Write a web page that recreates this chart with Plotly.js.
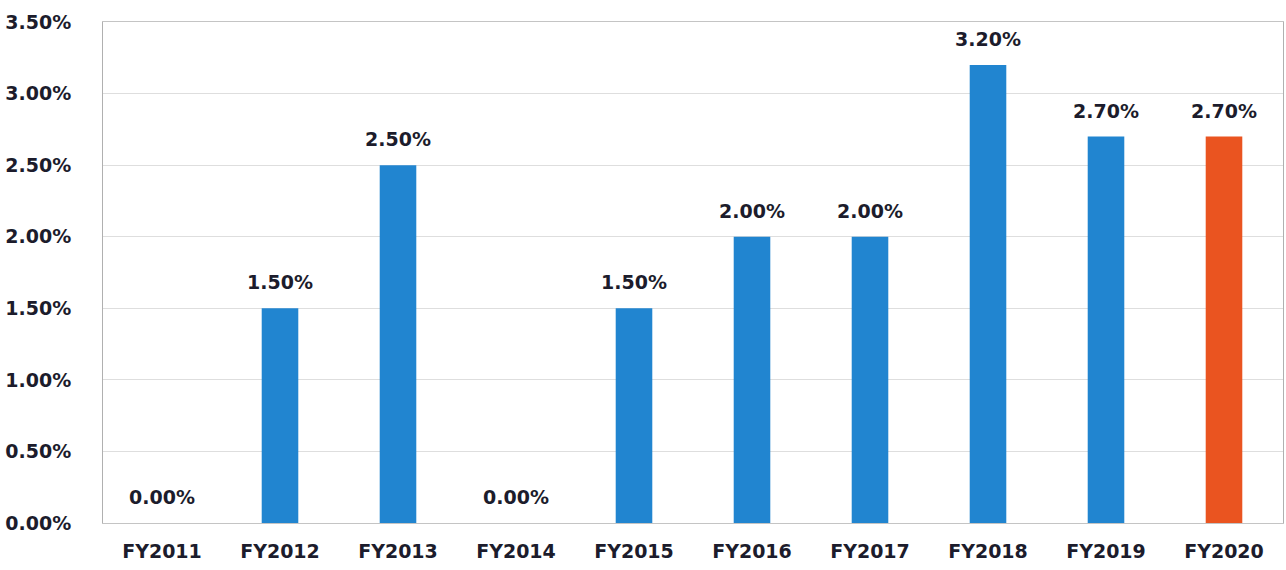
<!DOCTYPE html>
<html>
<head>
<meta charset="utf-8">
<script src="https://cdn.plot.ly/plotly-3.0.1.min.js"></script>
<style>
  html, body { margin: 0; padding: 0; background: #ffffff; }
  #chart { width: 1286px; height: 570px; }
</style>
</head>
<body>
<div id="chart"></div>
<script>
const categories = ['FY2011','FY2012','FY2013','FY2014','FY2015','FY2016','FY2017','FY2018','FY2019','FY2020'];
const values = [0.0, 1.5, 2.5, 0.0, 1.5, 2.0, 2.0, 3.2, 2.7, 2.7];
const labels = ['0.00%','1.50%','2.50%','0.00%','1.50%','2.00%','2.00%','3.20%','2.70%','2.70%'];
const barColors = ['#2185d0','#2185d0','#2185d0','#2185d0','#2185d0','#2185d0','#2185d0','#2185d0','#2185d0','#ea5420'];
const tickVals = [0, 0.5, 1.0, 1.5, 2.0, 2.5, 3.0, 3.5];
const tickText = ['0.00%','0.50%','1.00%','1.50%','2.00%','2.50%','3.00%','3.50%'];

const fontFam = 'DejaVu Sans, Verdana, sans-serif';
const textColor = '#1c1c2c';

const trace = {
  type: 'bar',
  x: categories,
  y: values,
  marker: { color: barColors, line: { width: 0 } },
  hoverinfo: 'skip'
};

const annotations = categories.map((c, i) => ({
  x: c, y: values[i], xref: 'x', yref: 'y',
  text: '<b>' + labels[i] + '</b>',
  showarrow: false, yanchor: 'middle', yshift: 26,
  font: { family: fontFam, size: 19, color: textColor }
}));

const layout = {
  width: 1286, height: 570,
  margin: { l: 103, r: 3, t: 22, b: 47, pad: 0 },
  paper_bgcolor: '#ffffff',
  plot_bgcolor: '#ffffff',
  showlegend: false,
  bargap: 0.69,
  xaxis: {
    type: 'category',
    showgrid: false,
    showline: true, mirror: true, linecolor: '#c4c4c4', linewidth: 1,
    ticks: '',
    ticklabelstandoff: 11,
    tickfont: { family: fontFam, size: 19, color: textColor, weight: 'bold' }
  },
  yaxis: {
    range: [0, 3.5],
    tickvals: tickVals, ticktext: tickText,
    showgrid: true, gridcolor: '#dedede', gridwidth: 1,
    showline: true, mirror: true, linecolor: '#b0b0b0', linewidth: 1,
    zeroline: false,
    ticks: '',
    ticklabelstandoff: 27,
    tickfont: { family: fontFam, size: 19, color: textColor, weight: 'bold' }
  },
  annotations: annotations
};

Plotly.newPlot('chart', [trace], layout, { displayModeBar: false, staticPlot: true });
</script>
</body>
</html>
